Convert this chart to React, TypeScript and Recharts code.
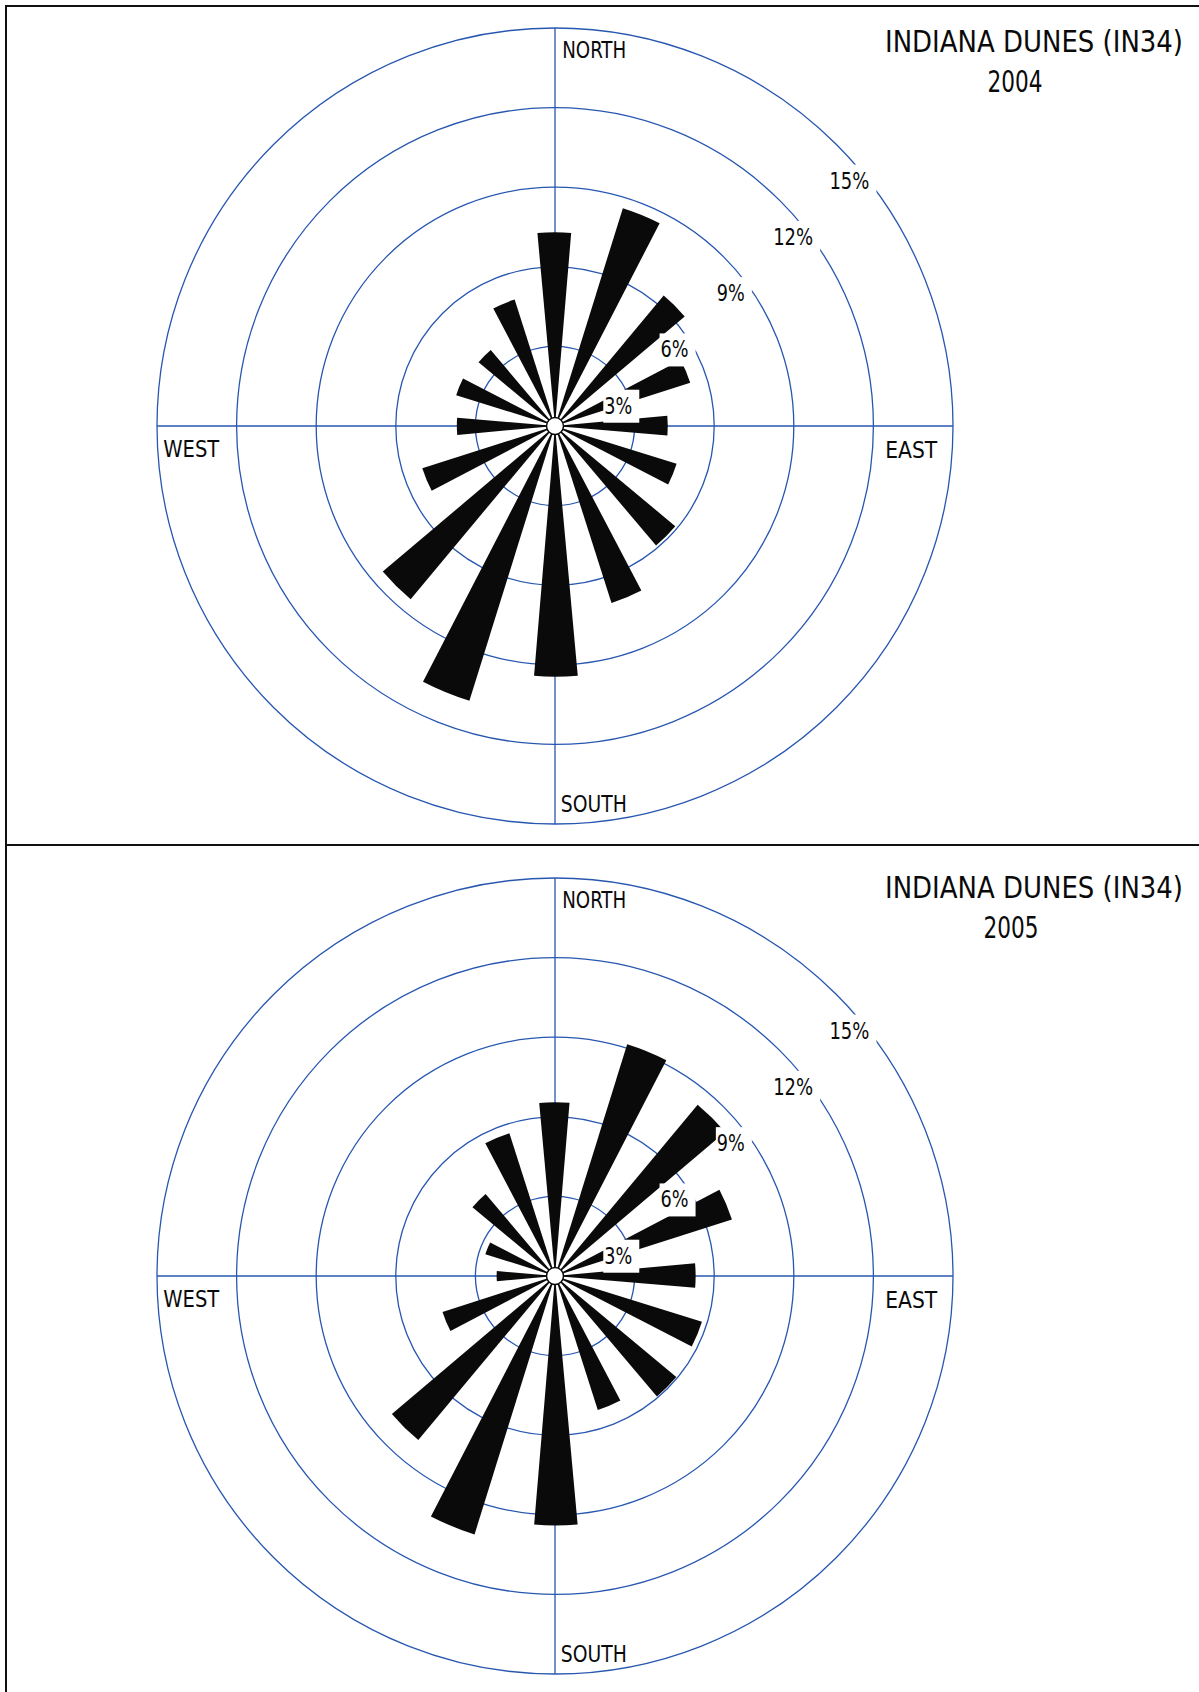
import React from 'react';
import { RadialBarChart, RadialBar, PolarGrid, PolarAngleAxis, PolarRadiusAxis } from 'recharts';

// ---- data ----
const directions = ['N', 'NNE', 'NE', 'ENE', 'E', 'ESE', 'SE', 'SSE', 'S', 'SSW', 'SW', 'WSW', 'W', 'WNW', 'NW', 'NNW'];
const freq2004 = [7.3, 8.6, 6.4, 5.35, 4.25, 4.8, 5.9, 7.0, 9.45, 10.85, 8.5, 5.25, 3.7, 3.9, 3.75, 5.0];
const freq2005 = [6.55, 9.15, 8.4, 7.0, 5.3, 5.8, 5.95, 5.3, 9.4, 10.2, 8.05, 4.45, 2.2, 2.75, 4.05, 5.65];
const radiusTicks = [0, 3, 6, 9, 12, 15];
const compassNames: Record<string, string> = { N: 'NORTH', E: 'EAST', S: 'SOUTH', W: 'WEST' };
const titleText = 'INDIANA DUNES (IN34)';
const yearLabels = ['2004', '2005'];

const FONT = '"Liberation Sans Narrow", "Arial Narrow", "DejaVu Sans Condensed", sans-serif';
const GRID = '#2857b0';
const INK = '#0a0a0a';

// label placement relative to the angle-axis tick (styling offsets)
const compassStyle: Record<string, { dx: number; dy: number; anchor: 'start' | 'end'; len: number }> = {
  NORTH: { dx: -72, dy: 30.5, anchor: 'start', len: 64 },
  EAST: { dx: -16, dy: -47.5, anchor: 'end', len: 52 },
  SOUTH: { dx: 85, dy: -12, anchor: 'start', len: 66 },
  WEST: { dx: 6.5, dy: 110, anchor: 'start', len: 56 },
};

function CompassTick(props: any) {
  const { x, y, payload } = props;
  const name = compassNames[payload?.value];
  if (!name) return null;
  const s = compassStyle[name];
  return (
    <text
      x={x + s.dx}
      y={y + s.dy}
      textAnchor={s.anchor}
      fontFamily={FONT}
      fontSize={23.5}
      fill={INK}
      textLength={s.len}
      lengthAdjust="spacingAndGlyphs"
    >
      {name}
    </text>
  );
}

function PctTick(props: any) {
  const { x, y, payload } = props;
  const v = payload?.value;
  if (v === 0) {
    return <circle cx={x} cy={y} r={8.5} fill="#fff" stroke={INK} strokeWidth={1.5} />;
  }
  const label = `${v}%`;
  const w = label.length === 2 ? 28 : 40;
  const left = x - 7;
  const base = y + 44;
  return (
    <g>
      <rect x={left - 1} y={base - 24} width={w + 8} height={33} fill="#fff" />
      <text
        x={left}
        y={base}
        textAnchor="start"
        fontFamily={FONT}
        fontSize={23}
        fill={INK}
        textLength={w}
        lengthAdjust="spacingAndGlyphs"
      >
        {label}
      </text>
    </g>
  );
}

function Panel({ values, year, top, titleY }: { values: number[]; year: string; top: number; titleY: number }) {
  const rows = directions.map((d, i) => ({ dir: d, value: values[i] }));
  return (
    <div style={{ position: 'absolute', left: 0, top, width: 1199, height: 850 }}>
      <RadialBarChart
        width={1199}
        height={850}
        data={rows}
        cx={555}
        cy={426}
        innerRadius={0}
        outerRadius={398}
        startAngle={78.75}
        endAngle={-281.25}
        layout="centric"
        barCategoryGap="28.7%"
        margin={{ top: 0, right: 0, bottom: 0, left: 0 }}
      >
        <PolarGrid gridType="circle" polarAngles={[90, 0, -90, 180]} stroke={GRID} strokeWidth={1.3} />
        <PolarAngleAxis dataKey="dir" type="category" axisLine={false} tickLine={false} tick={(p: any) => <CompassTick {...p} />} />
        <RadialBar dataKey="value" fill={INK} isAnimationActive={false} />
        <PolarRadiusAxis
          type="number"
          domain={[0, 15]}
          ticks={radiusTicks}
          tickCount={6}
          angle={45}
          axisLine={false}
          tick={(p: any) => <PctTick {...p} />}
        />
        <text
          x={885}
          y={titleY}
          fontFamily={FONT}
          fontSize={29.5}
          fill={INK}
          textLength={298}
          lengthAdjust="spacingAndGlyphs"
        >
          {titleText}
        </text>
        <text
          x={year === '2004' ? 987.5 : 983.5}
          y={titleY + 40}
          fontFamily={FONT}
          fontSize={29.5}
          fill={INK}
          textLength={55}
          lengthAdjust="spacingAndGlyphs"
        >
          {year}
        </text>
      </RadialBarChart>
    </div>
  );
}

export default function App() {
  return (
    <div style={{ position: 'absolute', left: 0, top: 0, width: 1199, height: 1692, background: '#fff', overflow: 'hidden' }}>
      <Panel values={freq2004} year={yearLabels[0]} top={0} titleY={52} />
      <Panel values={freq2005} year={yearLabels[1]} top={850} titleY={48} />
      <div style={{ position: 'absolute', left: 5, top: 5, width: 1194, height: 2, background: '#111' }} />
      <div style={{ position: 'absolute', left: 5, top: 5, width: 2, height: 1687, background: '#111' }} />
      <div style={{ position: 'absolute', left: 7, top: 844, width: 1192, height: 2, background: '#111' }} />
    </div>
  );
}
